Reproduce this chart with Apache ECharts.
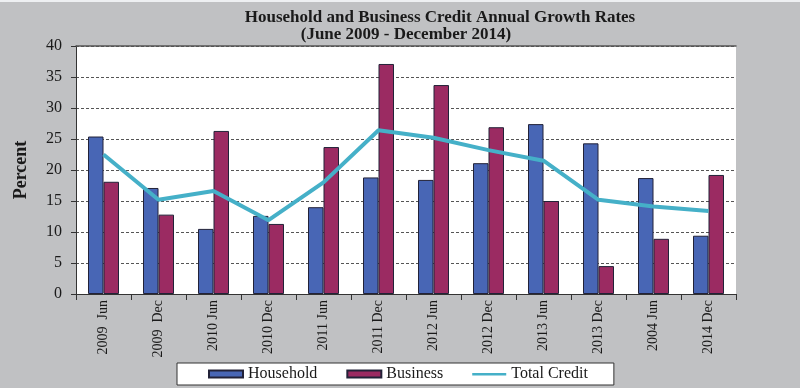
<!DOCTYPE html>
<html>
<head>
<meta charset="utf-8">
<script src="https://cdn.jsdelivr.net/npm/echarts@6/dist/echarts.min.js"></script>
<style>html,body{margin:0;padding:0;background:#c0c1c3;}#c{width:800px;height:388px;}</style>
</head>
<body>
<div id="c"></div>
<script>
const categories = ["2009  Jun","2009  Dec","2010 Jun","2010 Dec","2011 Jun","2011 Dec","2012 Jun","2012 Dec","2013 Jun","2013 Dec","2004 Jun","2014 Dec"];
const household = [25.4, 17.1, 10.5, 12.6, 14.0, 18.8, 18.4, 21.1, 27.4, 24.3, 18.7, 9.4];
const business = [18.1, 12.8, 26.3, 11.3, 23.7, 37.1, 33.7, 26.9, 15.0, 4.5, 8.9, 19.2];
const totalCredit = [22.5, 15.2, 16.6, 11.9, 18.0, 26.4, 25.2, 23.2, 21.5, 15.2, 14.1, 13.4];
const yTicks = [0, 5, 10, 15, 20, 25, 30, 35, 40];

const serif = '"Liberation Serif", "Times New Roman", serif';
const chart = echarts.init(document.getElementById('c'), null, {renderer: 'canvas'});
chart.setOption({
  backgroundColor: '#c0c1c3',
  animation: false,
  title: [
    {text: 'Household and Business Credit Annual Growth Rates', left: 435, textAlign: 'center', top: 4,
     textStyle: {fontFamily: serif, fontWeight: 'bold', fontSize: 17, color: '#1a1a1a'}},
    {text: '(June 2009 - December 2014)', left: 401, textAlign: 'center', top: 21,
     textStyle: {fontFamily: serif, fontWeight: 'bold', fontSize: 17, color: '#1a1a1a'}}
  ],
  graphic: [{type: 'rect', shape: {x: 0, y: 0, width: 800, height: 2}, style: {fill: '#eef0f2'}}],
  legend: {
    left: 177, top: 363,
    backgroundColor: '#fff', borderColor: '#333', borderWidth: 1,
    padding: [3, 26, 3, 31],
    itemWidth: 34, itemHeight: 7, itemGap: 29,
    textStyle: {fontFamily: serif, fontSize: 16, color: '#1a1a1a'},
    data: [
      {name: 'Household', icon: 'rect'},
      {name: 'Business', icon: 'rect'},
      {name: 'Total Credit', icon: 'path://M0,0 L0,0 M0,2.5 L34,2.5 L34,5 L0,5 Z M0,7 L0,7', itemStyle: {color: '#45b0c8', borderWidth: 0}}
    ]
  },
  grid: {left: 76, right: 64, top: 46, bottom: 94, show: true, backgroundColor: '#fff', borderWidth: 0},
  xAxis: [{
    type: 'category', data: categories,
    axisLine: {lineStyle: {color: '#333', width: 1}},
    axisTick: {show: true, length: 6, lineStyle: {color: '#333'}},
    axisLabel: {rotate: 90, margin: 6, fontFamily: serif, fontSize: 14, color: '#1a1a1a'}
  }, {
    type: 'category', data: categories, position: 'top',
    axisLine: {show: true, lineStyle: {color: '#555', width: 1.5}},
    axisTick: {show: false}, axisLabel: {show: false}
  }],
  yAxis: {
    type: 'value', min: 0, max: 40, interval: 5,
    axisLine: {show: true, lineStyle: {color: '#333'}},
    axisTick: {show: true, length: 5, lineStyle: {color: '#333'}},
    axisLabel: {margin: 14, fontFamily: serif, fontSize: 16, color: '#1a1a1a',
      formatter: v => yTicks.includes(v) ? String(v) : ''},
    splitLine: {show: true, lineStyle: {color: '#555', type: [3, 2], width: 1}},
    name: 'Percent', nameLocation: 'middle', nameGap: 46, nameRotate: 90,
    nameTextStyle: {fontFamily: serif, fontWeight: 'bold', fontSize: 18, color: '#1a1a1a'}
  },
  series: [
    {name: 'Household', type: 'bar', data: household, barWidth: 15.5, barGap: '0%',
     itemStyle: {color: '#4866b5', borderColor: '#222238', borderWidth: 1}},
    {name: 'Business', type: 'bar', data: business, barWidth: 15.5, barGap: '0%',
     itemStyle: {color: '#9b2b62', borderColor: '#222238', borderWidth: 1}},
    {name: 'Total Credit', type: 'line', data: totalCredit, symbol: 'none',
     lineStyle: {color: '#45b0c8', width: 4}, itemStyle: {color: '#45b0c8'}, z: 5}
  ]
});
</script>
</body>
</html>
